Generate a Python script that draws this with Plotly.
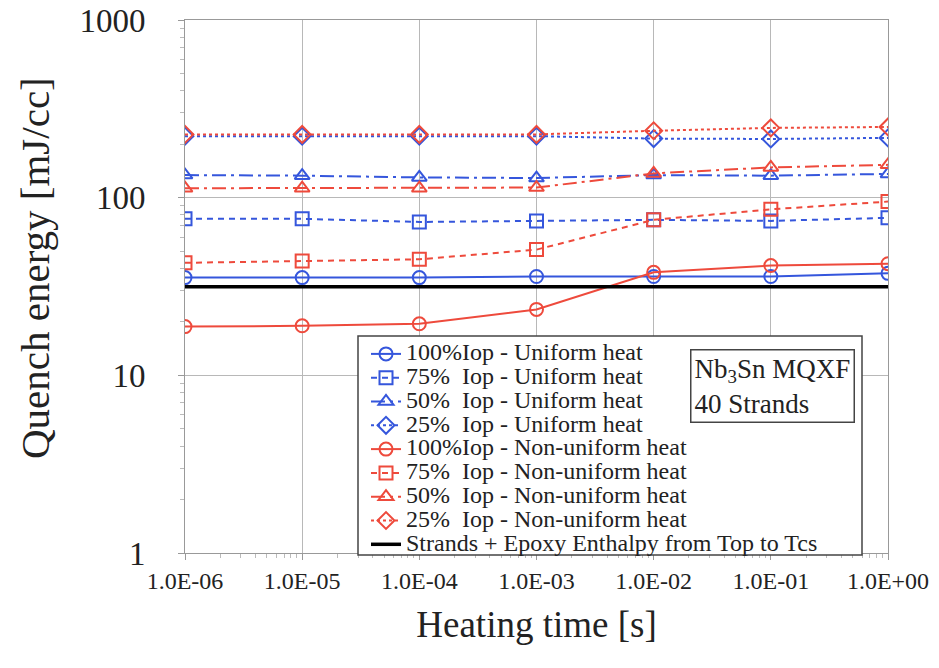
import plotly.graph_objects as go

heating_time = [1e-6, 1e-5, 1e-4, 1e-3, 1e-2, 1e-1, 1e0]
x_tick_vals = [1e-6, 1e-5, 1e-4, 1e-3, 1e-2, 1e-1, 1e0]
x_tick_text = ["1.0E-06", "1.0E-05", "1.0E-04", "1.0E-03", "1.0E-02", "1.0E-01", "1.0E+00"]
y_tick_vals = [1, 10, 100, 1000]
y_tick_text = ["1", "10", "100", "1000"]

uni_100 = [35.5, 35.5, 35.5, 36.0, 36.0, 36.0, 37.5]
uni_75 = [76, 76, 73, 74, 75, 74, 77]
uni_50 = [134, 133, 130, 129, 134, 133, 136]
uni_25 = [222, 222, 222, 222, 215, 214, 217]
non_100 = [18.8, 19.0, 19.5, 23.5, 38, 41.5, 42.5]
non_75 = [43, 44, 45, 51, 75, 86, 95]
non_50 = [113, 113, 113, 114, 137, 148, 153]
non_25 = [227, 227, 227, 227, 238, 247, 250]
enthalpy = [31.5, 31.5, 31.5, 31.5, 31.5, 31.5, 31.5]

names = [
    "100%Iop - Uniform heat",
    "75%&nbsp;&nbsp;Iop - Uniform heat",
    "50%&nbsp;&nbsp;Iop - Uniform heat",
    "25%&nbsp;&nbsp;Iop - Uniform heat",
    "100%Iop - Non-uniform heat",
    "75%&nbsp;&nbsp;Iop - Non-uniform heat",
    "50%&nbsp;&nbsp;Iop - Non-uniform heat",
    "25%&nbsp;&nbsp;Iop - Non-uniform heat",
    "Strands + Epoxy Enthalpy from Top to Tcs",
]

BLUE = "#3556dc"
RED = "#ee4a3c"
series = [uni_100, uni_75, uni_50, uni_25, non_100, non_75, non_50, non_25]
colors = [BLUE] * 4 + [RED] * 4
symbols = ["circle-open", "square-open", "triangle-up-open", "diamond-open"] * 2
dashes = ["solid", "6px,5px", "14px,5px,3px,5px", "3px,3px"] * 2

FONT = "Liberation Serif, Times New Roman, serif"
LEG_TXT = '<span style="font-family:\'Liberation Serif\';font-size:24px">{}</span>'

fig = go.Figure()
for ys, c, s, d, n in zip(series, colors, symbols, dashes, names):
    fig.add_trace(go.Scatter(
        x=heating_time, y=ys, mode="lines+markers", name=LEG_TXT.format(n),
        line=dict(color=c, width=2, dash=d),
        marker=dict(symbol=s, size=13, color=c, line=dict(width=2, color=c)),
    ))
fig.add_trace(go.Scatter(
    x=heating_time, y=enthalpy, mode="lines", name=LEG_TXT.format(names[8]),
    line=dict(color="black", width=3.5),
))

# page body has an 8px margin; shift figure so plot lands where the reference has it
OFF = 8
W, H = 939 - OFF, 668 - OFF
L, R, T, B = 185 - OFF, 888 - OFF, 20 - OFF, 553 - OFF

def px_x(p):
    return (p - OFF - L) / (R - L)

def px_y(p):
    return (B - (p - OFF)) / (B - T)

fig.add_shape(type="rect", xref="paper", yref="paper",
              x0=px_x(358), x1=px_x(862), y0=px_y(555), y1=px_y(336),
              line=dict(color="#444", width=1.5), fillcolor="white", layer="above")

fig.add_annotation(
    xref="paper", yref="paper", x=px_x(690), y=px_y(349), xanchor="left", yanchor="top",
    text="Nb<sub>3</sub>Sn MQXF<br>40 Strands", showarrow=False, align="left",
    font=dict(family=FONT, size=27, color="#222"),
    bordercolor="#444", borderwidth=1.5, borderpad=3, bgcolor="white",
)

fig.add_annotation(
    xref="paper", yref="paper", x=px_x(35), y=px_y(268), xanchor="center", yanchor="middle",
    text="Quench energy [mJ/cc]", textangle=-90, showarrow=False,
    font=dict(family=FONT, size=41, color="#222"),
)

minor_x = [k * 10.0 ** e for e in range(-6, 0) for k in range(2, 10)]
minor_y = [k * 10.0 ** e for e in range(0, 3) for k in range(2, 10)]

fig.update_layout(
    width=W, height=H,
    margin=dict(l=L, r=W - R, t=T, b=H - B),
    paper_bgcolor="white", plot_bgcolor="white",
    font=dict(family=FONT, color="#222"),
    showlegend=True,
    legend=dict(x=px_x(366), y=px_y(337), xanchor="left", yanchor="top",
                bgcolor="rgba(0,0,0,0)", borderwidth=0,
                font=dict(family=FONT, size=16, color="#222"),
                tracegroupgap=0),
    xaxis=dict(
        type="log", range=[-6, 0], tickvals=x_tick_vals, ticktext=x_tick_text,
        automargin=False, ticklabeloverflow="allow",
        showgrid=True, gridcolor="#b8b8b8", gridwidth=1,
        showline=True, linecolor="#999", linewidth=1, mirror=True,
        ticks="outside", ticklen=6, tickcolor="#999",
        tickfont=dict(family=FONT, size=24, color="#222"),
        minor=dict(tickvals=minor_x, ticks="outside", ticklen=4, tickcolor="#bbb", showgrid=False),
        title=dict(text="Heating time [s]", font=dict(family=FONT, size=37, color="#222"), standoff=18),
        zeroline=False,
    ),
    yaxis=dict(
        type="log", range=[0, 3], tickvals=y_tick_vals, ticktext=y_tick_text,
        automargin=False, ticklabeloverflow="allow",
        showgrid=True, gridcolor="#b8b8b8", gridwidth=1,
        showline=True, linecolor="#999", linewidth=1, mirror=True,
        ticks="outside", ticklen=6, tickcolor="#999",
        ticklabelstandoff=26,
        tickfont=dict(family=FONT, size=33, color="#222"),
        minor=dict(tickvals=minor_y, ticks="outside", ticklen=4, tickcolor="#bbb", showgrid=False),
        zeroline=False,
    ),
)

fig.write_html("out.html")
